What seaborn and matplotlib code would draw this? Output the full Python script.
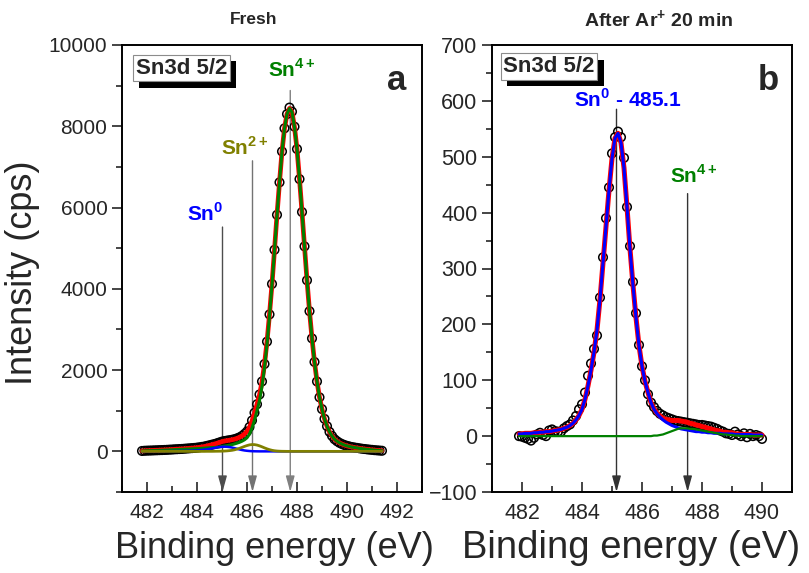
import matplotlib
matplotlib.use('Agg')
import matplotlib.pyplot as plt
import matplotlib.patheffects as pe
from matplotlib.ticker import MultipleLocator
import numpy as np
import seaborn as sns

# ---- panel a: fresh sample (481.8 ... 491.4 eV, 0.1 eV step) ----
energy_fresh = [
    481.8, 481.9, 482.0, 482.1, 482.2, 482.3, 482.4, 482.5, 482.6, 482.7,
    482.8, 482.9, 483.0, 483.1, 483.2, 483.3, 483.4, 483.5, 483.6, 483.7,
    483.8, 483.9, 484.0, 484.1, 484.2, 484.3, 484.4, 484.5, 484.6, 484.7,
    484.8, 484.9, 485.0, 485.1, 485.2, 485.3, 485.4, 485.5, 485.6, 485.7,
    485.8, 485.9, 486.0, 486.1, 486.2, 486.3, 486.4, 486.5, 486.6, 486.7,
    486.8, 486.9, 487.0, 487.1, 487.2, 487.3, 487.4, 487.5, 487.6, 487.7,
    487.8, 487.9, 488.0, 488.1, 488.2, 488.3, 488.4, 488.5, 488.6, 488.7,
    488.8, 488.9, 489.0, 489.1, 489.2, 489.3, 489.4, 489.5, 489.6, 489.7,
    489.8, 489.9, 490.0, 490.1, 490.2, 490.3, 490.4, 490.5, 490.6, 490.7,
    490.8, 490.9, 491.0, 491.1, 491.2, 491.3, 491.4]
counts_fresh = [
    10, 15, 18, 20, 22, 25, 27, 30, 32, 35,
    38, 42, 45, 50, 53, 57, 60, 65, 70, 75,
    80, 85, 92, 100, 110, 120, 135, 150, 165, 180,
    200, 220, 240, 255, 265, 275, 285, 300, 320, 345,
    380, 430, 490, 600, 760, 950, 1160, 1400, 1720, 2150,
    2700, 3370, 4120, 4960, 5820, 6620, 7380, 7950, 8300, 8460,
    8360, 7990, 7440, 6700, 5890, 5045, 4210, 3450, 2780, 2200,
    1720, 1330, 1040, 800, 620, 480, 380, 300, 250, 210,
    180, 155, 135, 120, 105, 95, 85, 75, 65, 58,
    50, 43, 37, 30, 25, 20, 15]
sn0_fresh = [
    2, 3, 3, 3, 4, 4, 4, 5, 5, 5,
    6, 6, 7, 8, 9, 10, 11, 12, 14, 16,
    18, 21, 25, 30, 35, 41, 50, 60, 71, 83,
    96, 106, 112, 115, 112, 105, 94, 79, 63, 47,
    33, 22, 14, 8, 4, 2, 1, 0, 0, 0,
    0, 0, 0, 0, 0, 0, 0, 0, 0, 0,
    0, 0, 0, 0, 0, 0, 0, 0, 0, 0,
    0, 0, 0, 0, 0, 0, 0, 0, 0, 0,
    0, 0, 0, 0, 0, 0, 0, 0, 0, 0,
    0, 0, 0, 0, 0, 0, 0]
sn2_fresh = [
    0, 0, 0, 0, 0, 0, 0, 0, 0, 0,
    0, 0, 0, 0, 0, 0, 0, 0, 0, 0,
    0, 0, 0, 0, 0, 0, 1, 1, 1, 2,
    3, 4, 5, 8, 12, 18, 26, 38, 55, 75,
    98, 122, 143, 160, 168, 166, 155, 136, 112, 86,
    62, 42, 26, 15, 8, 4, 2, 1, 0, 0,
    0, 0, 0, 0, 0, 0, 0, 0, 0, 0,
    0, 0, 0, 0, 0, 0, 0, 0, 0, 0,
    0, 0, 0, 0, 0, 0, 0, 0, 0, 0,
    0, 0, 0, 0, 0, 0, 0]
sn4_fresh = [
    8, 12, 15, 17, 18, 21, 23, 25, 27, 30,
    32, 36, 38, 42, 44, 47, 49, 53, 56, 59,
    62, 64, 67, 70, 75, 79, 84, 89, 93, 95,
    101, 110, 123, 132, 141, 152, 165, 183, 202, 223,
    250, 285, 335, 425, 575, 770, 1000, 1250, 1600, 2060,
    2638, 3328, 4094, 4945, 5812, 6616, 7378, 7949, 8300, 8440,
    8350, 7980, 7440, 6700, 5890, 5045, 4210, 3450, 2780, 2200,
    1720, 1330, 1040, 800, 620, 480, 380, 300, 250, 210,
    180, 155, 135, 120, 105, 95, 85, 75, 65, 58,
    50, 43, 37, 30, 25, 20, 15]

# ---- panel b: after Ar+ 20 min (481.9 ... 490.0 eV) ----
energy_ar = [
    481.9, 482.0, 482.1, 482.2, 482.3, 482.4, 482.5, 482.6, 482.7, 482.8,
    482.9, 483.0, 483.1, 483.2, 483.3, 483.4, 483.5, 483.6, 483.7, 483.8,
    483.9, 484.0, 484.1, 484.2, 484.3, 484.4, 484.5, 484.6, 484.7, 484.8,
    484.9, 485.0, 485.1, 485.2, 485.3, 485.4, 485.5, 485.6, 485.7, 485.8,
    485.9, 486.0, 486.1, 486.2, 486.3, 486.4, 486.5, 486.6, 486.7, 486.8,
    486.9, 487.0, 487.1, 487.2, 487.3, 487.4, 487.5, 487.6, 487.7, 487.8,
    487.9, 488.0, 488.1, 488.2, 488.3, 488.4, 488.5, 488.6, 488.7, 488.8,
    488.9, 489.0, 489.1, 489.2, 489.3, 489.4, 489.5, 489.6, 489.7, 489.8,
    489.9, 490.0]
counts_ar = [
    0, -1, -3, -5, -8, -3, 3, 6, 2, 0,
    10, 12, 9, 8, 8, 14, 18, 21, 28, 36,
    48, 57, 78, 108, 130, 156, 180, 248, 320, 390,
    445, 506, 535, 545, 535, 498, 410, 340, 276, 220,
    163, 125, 100, 75, 60, 52, 45, 40, 37, 34,
    32, 30, 28, 27, 26, 25, 24, 23, 22, 21,
    20, 20, 19, 18, 17, 15, 13, 10, 8, 5,
    4, 2, 8, 3, 0, 5, -2, 4, 0, 2,
    0, -5]
sn0_ar = [
    4, 4, 5, 5, 5, 6, 6, 7, 7, 8,
    8, 9, 10, 11, 12, 14, 16, 19, 23, 29,
    37, 48, 66, 90, 118, 150, 190, 245, 310, 375,
    440, 497, 533, 542, 525, 480, 410, 335, 270, 212,
    162, 125, 98, 78, 60, 48, 40, 34, 29, 25,
    22, 19, 17, 15, 13, 12, 11, 10, 9, 8,
    8, 7, 7, 6, 6, 5, 5, 5, 4, 4,
    4, 4, 3, 3, 3, 3, 3, 3, 2, 2,
    2, 2]
sn4_ar = [
    0, 0, 0, 0, 0, 0, 0, 0, 0, 0,
    0, 0, 0, 0, 0, 0, 0, 0, 0, 0,
    0, 0, 0, 0, 0, 0, 0, 0, 0, 0,
    0, 0, 0, 0, 0, 0, 0, 0, 0, 0,
    0, 0, 0, 0, 0, 1, 1, 2, 3, 5,
    7, 9, 11, 13, 14, 14, 14, 13, 13, 12,
    11, 10, 9, 8, 7, 6, 5, 4, 3, 3,
    2, 2, 1, 1, 0, 0, 0, 0, 0, 0,
    0, 0]

# envelope = sum of fitted components
envelope_fresh = np.array(sn0_fresh) + np.array(sn2_fresh) + np.array(sn4_fresh)
envelope_ar = np.array(sn0_ar) + np.array(sn4_ar)

sns.set_style('ticks')
plt.rcParams['font.family'] = ['Liberation Sans', 'DejaVu Sans']
plt.rcParams['mathtext.fontset'] = 'custom'
plt.rcParams['mathtext.rm'] = 'Liberation Sans'
plt.rcParams['mathtext.bf'] = 'Liberation Sans:bold'

fig = plt.figure(figsize=(8.09, 5.73), dpi=100)
ax1 = fig.add_axes([122 / 809, 1 - 492 / 573, 300 / 809, 447 / 573])
ax2 = fig.add_axes([492 / 809, 1 - 492 / 573, 300 / 809, 447 / 573])


def style_axis(ax, xlim, ylim, ymajor, yminor, xmax_tick, lsize):
    ax.set_xlim(*xlim)
    ax.set_ylim(*ylim)
    ax.set_xticks(np.arange(482, xmax_tick + 1, 2))
    ax.xaxis.set_minor_locator(MultipleLocator(1))
    ax.yaxis.set_major_locator(MultipleLocator(ymajor))
    ax.yaxis.set_minor_locator(MultipleLocator(yminor))
    ax.tick_params(axis='x', which='both', direction='in', labelsize=lsize, pad=8)
    ax.tick_params(axis='y', which='both', direction='out', labelsize=lsize)
    ax.tick_params(which='major', length=7, width=1.2)
    ax.tick_params(which='minor', length=4, width=1.2)
    for sp in ax.spines.values():
        sp.set_visible(True)
        sp.set_linewidth(1.4)
        sp.set_color('black')
    ax.set_xlabel('')
    ax.set_ylabel('')


def spectrum_box(ax, x, y):
    t = ax.text(x, y, 'Sn3d 5/2', transform=ax.transAxes, fontsize=16,
                fontweight='bold', ha='left', va='center', zorder=10,
                bbox=dict(boxstyle='square,pad=0.12', fc='white', ec='0.55', lw=0.8))
    t.get_bbox_patch().set_path_effects(
        [pe.withSimplePatchShadow(offset=(4.5, -4.5), shadow_rgbFace='black', alpha=1.0)])


def marker_arrow(ax, x, ytop, ybot, color):
    ax.annotate('', xy=(x, ybot), xytext=(x, ytop), annotation_clip=False,
                arrowprops=dict(arrowstyle='-|>,head_length=0.8,head_width=0.22',
                                color=color, lw=1.0, shrinkA=0, shrinkB=0,
                                mutation_scale=12), zorder=1)


# ---- panel a ----
sns.scatterplot(x=energy_fresh, y=counts_fresh, ax=ax1, marker='o', s=38,
                facecolor='none', edgecolor='black', linewidth=1.1, zorder=2)
sns.lineplot(x=energy_fresh, y=envelope_fresh, ax=ax1, color='#ff0000', lw=3.4, zorder=3)
sns.lineplot(x=energy_fresh, y=sn4_fresh, ax=ax1, color='#008000', lw=2.2, zorder=4)
sns.lineplot(x=energy_fresh, y=sn0_fresh, ax=ax1, color='#0000ff', lw=1.8, zorder=4)
sns.lineplot(x=energy_fresh, y=sn2_fresh, ax=ax1, color='#808000', lw=2.0, zorder=5)
style_axis(ax1, (481, 493), (-1000, 10000), 2000, 1000, 492, 15)

marker_arrow(ax1, 487.73, 8880, -1000, '0.5')
marker_arrow(ax1, 486.22, 7150, -1000, '0.45')
marker_arrow(ax1, 485.02, 5520, -1000, '0.3')
ax1.text(487.78, 9400, r'Sn$^{\mathbf{4+}}$', color='#008000', fontsize=15,
         fontweight='bold', ha='center', va='center')
ax1.text(485.9, 7480, r'Sn$^{\mathbf{2+}}$', color='#808000', fontsize=15,
         fontweight='bold', ha='center', va='center')
ax1.text(484.32, 5850, r'Sn$^{\mathbf{0}}$', color='#0000ff', fontsize=15,
         fontweight='bold', ha='center', va='center')
spectrum_box(ax1, 0.045, 0.948)
ax1.text(0.917, 0.92, 'a', transform=ax1.transAxes, fontsize=25,
         fontweight='bold', ha='center', va='center')
ax1.text(0.44, 1.056, 'Fresh', transform=ax1.transAxes, fontsize=12.5,
         fontweight='bold', ha='center', va='center')

# ---- panel b ----
sns.scatterplot(x=energy_ar, y=counts_ar, ax=ax2, marker='o', s=38,
                facecolor='none', edgecolor='black', linewidth=1.1, zorder=2)
sns.lineplot(x=energy_ar, y=envelope_ar, ax=ax2, color='#ff0000', lw=3.6, zorder=3)
sns.lineplot(x=energy_ar, y=sn0_ar, ax=ax2, color='#0000ff', lw=2.2, zorder=4)
sns.lineplot(x=energy_ar, y=sn4_ar, ax=ax2, color='#008000', lw=1.6, zorder=5)
style_axis(ax2, (481, 491), (-100, 700), 100, 50, 490, 15.5)

marker_arrow(ax2, 485.15, 585, -100, '0.2')
marker_arrow(ax2, 487.52, 434, -100, '0.2')
ax2.text(485.54, 603, r'Sn$^{\mathbf{0}}$ - 485.1', color='#0000ff', fontsize=15,
         fontweight='bold', ha='center', va='center')
ax2.text(487.73, 467, r'Sn$^{\mathbf{4+}}$', color='#008000', fontsize=15,
         fontweight='bold', ha='center', va='center')
spectrum_box(ax2, 0.038, 0.952)
ax2.text(0.92, 0.92, 'b', transform=ax2.transAxes, fontsize=25,
         fontweight='bold', ha='center', va='center')
ax2.text(0.557, 1.056, r'After Ar$^{\mathbf{+}}$ 20 min', transform=ax2.transAxes,
         fontsize=14, fontweight='bold', ha='center', va='center')

fig.text(23 / 809, 1 - 273 / 573, 'Intensity (cps)', rotation=90, fontsize=26,
         ha='center', va='center')
fig.text(274 / 809, 1 - 548 / 573, 'Binding energy (eV)', fontsize=26,
         ha='center', va='center')
fig.text(631 / 809, 1 - 548 / 573, 'Binding energy (eV)', fontsize=27.5,
         ha='center', va='center')

fig.savefig('out.png', dpi=100)
